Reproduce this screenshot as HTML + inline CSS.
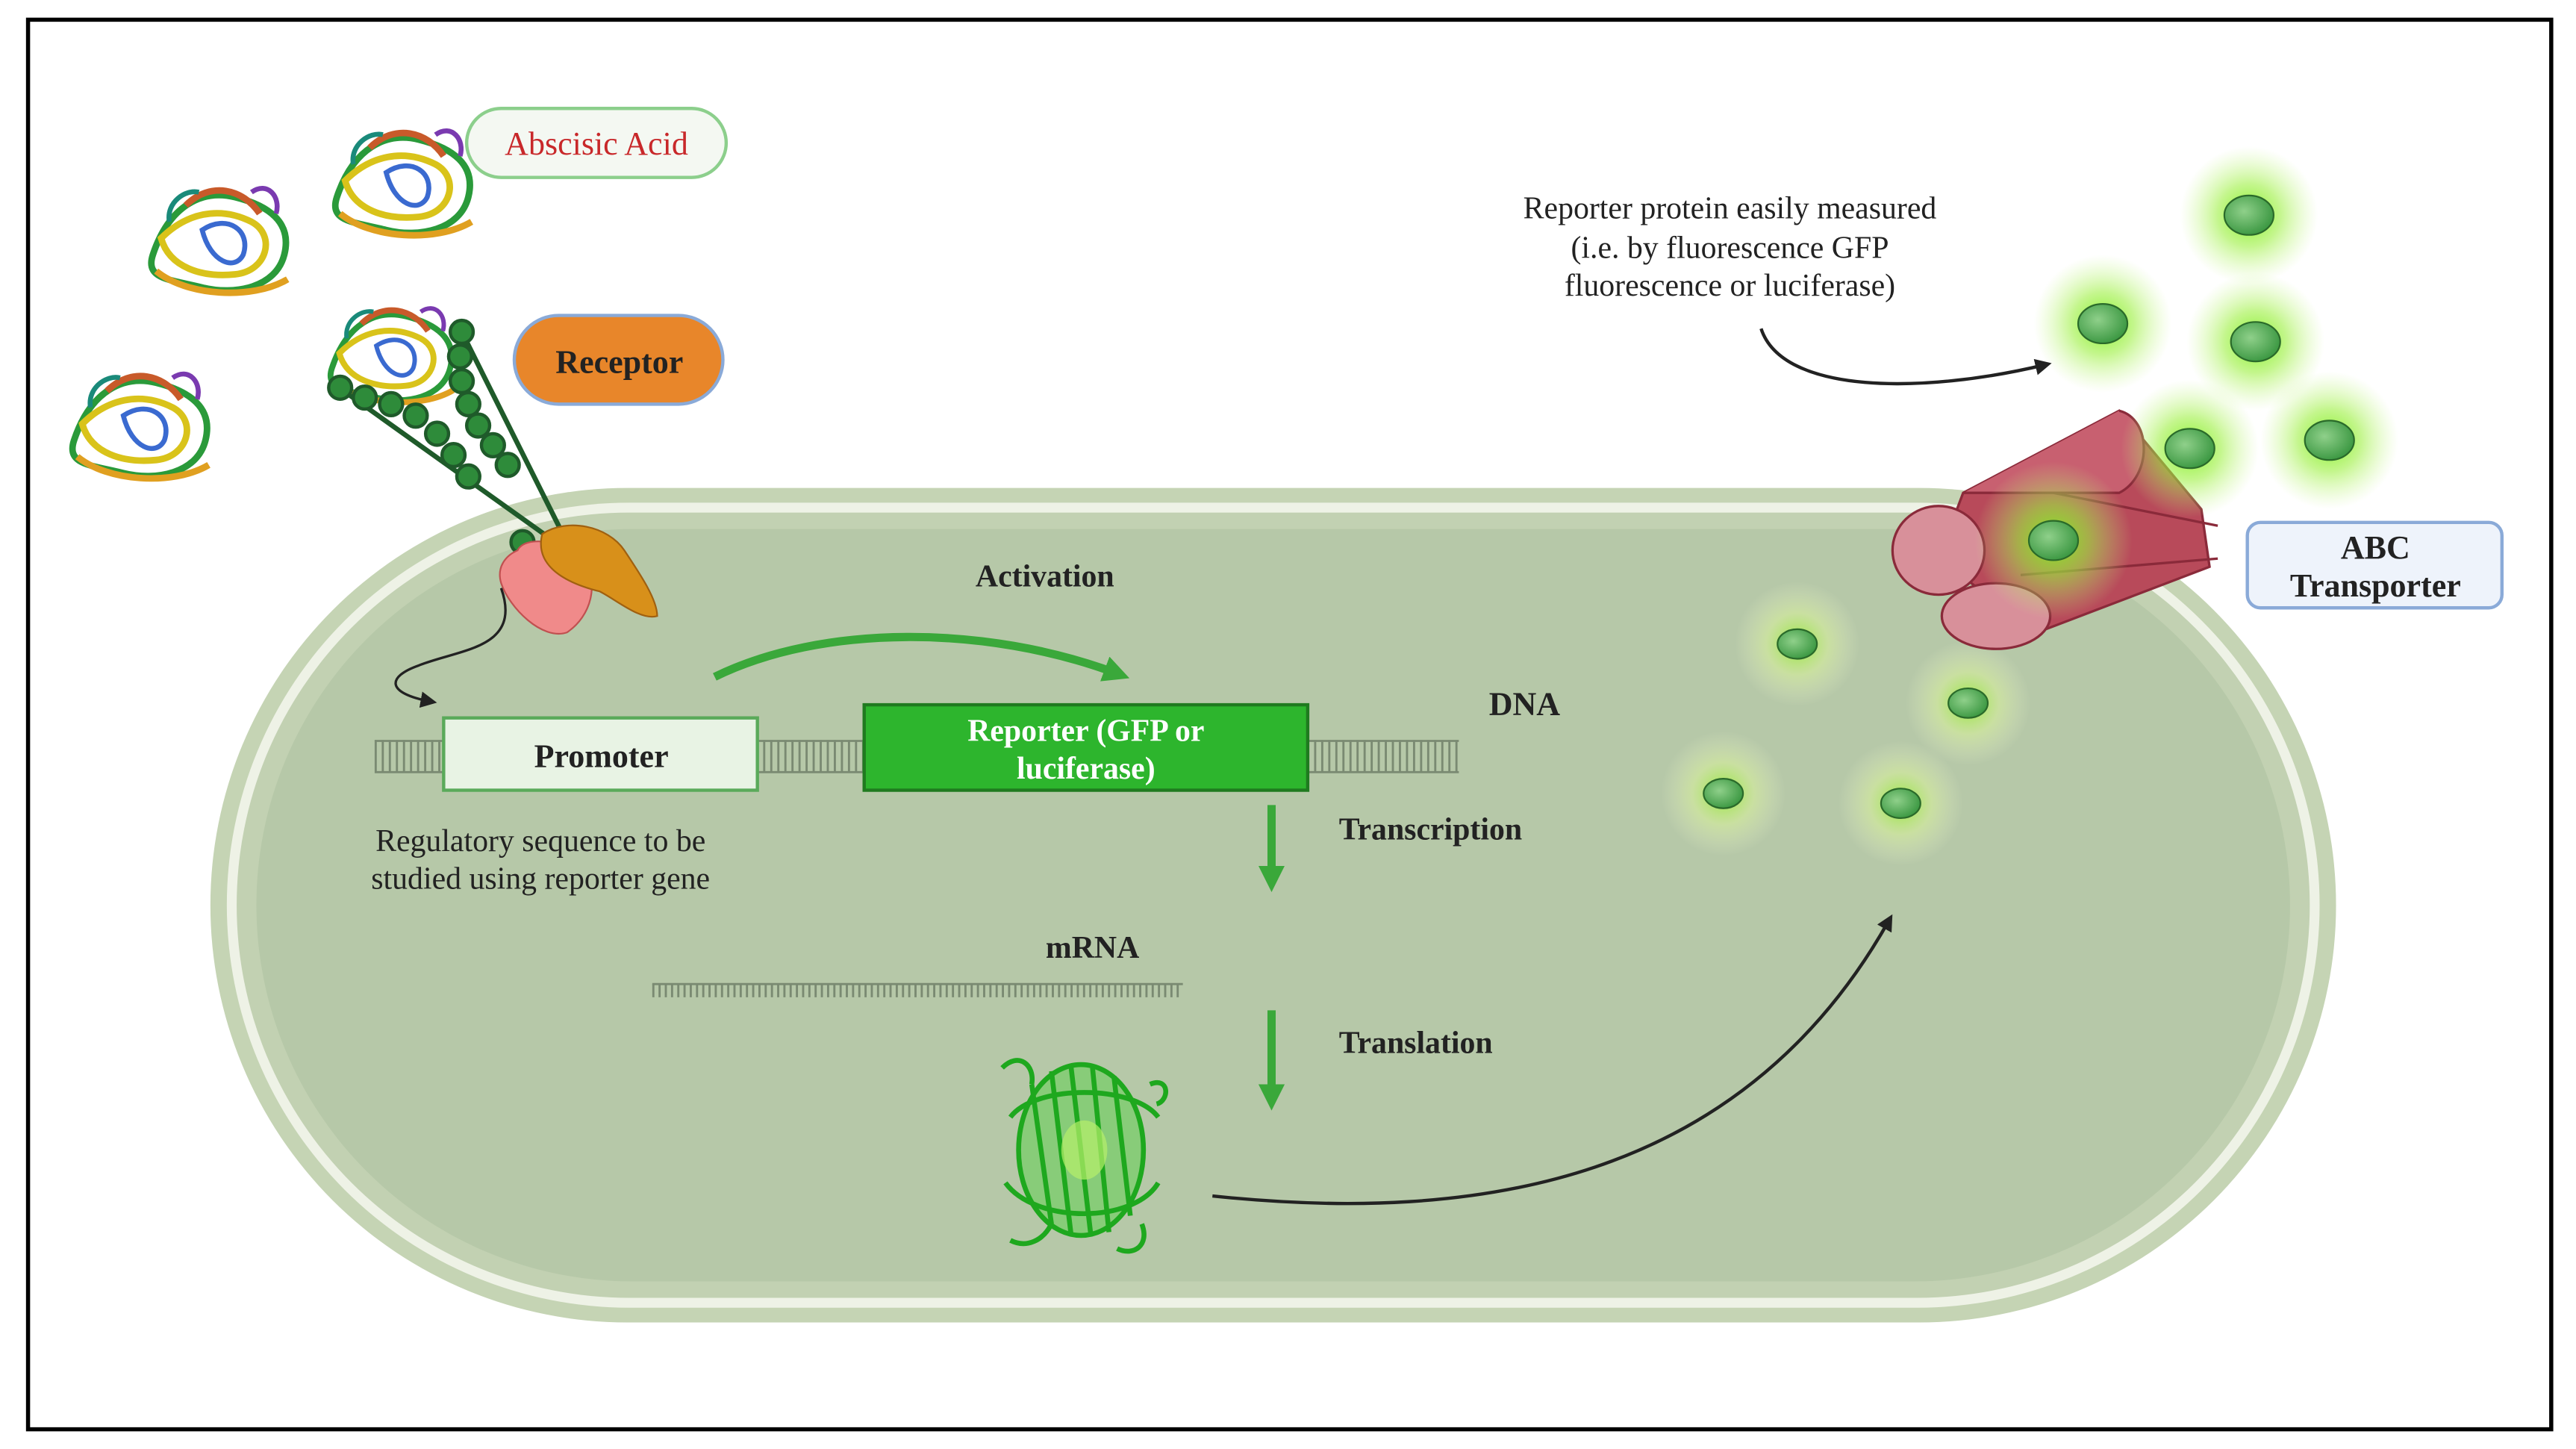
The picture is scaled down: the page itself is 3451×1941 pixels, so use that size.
<!DOCTYPE html>
<html><head><meta charset="utf-8">
<style>
html,body{margin:0;padding:0;background:#fff;}
svg{display:block;}
text{font-family:"Liberation Serif",serif;}
</style></head>
<body>
<svg width="3451" height="1941" viewBox="0 0 1568 882" xmlns="http://www.w3.org/2000/svg">
<defs>
<radialGradient id="glow" cx="50%" cy="50%" r="50%">
<stop offset="0%" stop-color="#7cf01a" stop-opacity="0.95"/>
<stop offset="45%" stop-color="#9cf040" stop-opacity="0.6"/>
<stop offset="100%" stop-color="#c8f58a" stop-opacity="0"/>
</radialGradient>
<radialGradient id="glowIn" cx="50%" cy="50%" r="50%">
<stop offset="0%" stop-color="#8eea2a" stop-opacity="0.9"/>
<stop offset="50%" stop-color="#d6ef9c" stop-opacity="0.6"/>
<stop offset="100%" stop-color="#e6f0c8" stop-opacity="0"/>
</radialGradient>
<radialGradient id="dot" cx="40%" cy="40%" r="60%">
<stop offset="0%" stop-color="#8fd08a"/>
<stop offset="100%" stop-color="#3f9a45"/>
</radialGradient>
<marker id="ah" markerWidth="10" markerHeight="10" refX="6" refY="5" orient="auto" markerUnits="userSpaceOnUse">
<path d="M0,0 L10,5 L0,10 z" fill="#222"/>
</marker>
<marker id="ahg" markerWidth="16" markerHeight="16" refX="8" refY="8" orient="auto" markerUnits="userSpaceOnUse">
<path d="M0,0 L16,8 L0,16 z" fill="#3aa83a"/>
</marker>
<g id="prot">
<path d="M-40,10 C-30,-20 -10,-30 10,-25 C30,-20 45,-10 40,10 C35,30 10,35 -10,30 C-30,25 -45,25 -40,10z" fill="none" stroke="#2a9a3a" stroke-width="4"/>
<path d="M-35,0 C-20,-15 0,-20 20,-10 C35,-2 30,20 10,22 C-10,24 -30,18 -35,0z" fill="none" stroke="#d9c31a" stroke-width="4"/>
<path d="M-20,-20 C-5,-35 15,-30 25,-15" fill="none" stroke="#c85a2a" stroke-width="4"/>
<path d="M-10,-5 C5,-15 20,-5 15,10 C10,20 -5,15 -10,-5z" fill="none" stroke="#3a6ad0" stroke-width="3"/>
<path d="M-38,20 C-20,35 20,38 42,25" fill="none" stroke="#e0a020" stroke-width="4"/>
<path d="M20,-28 C30,-35 38,-25 35,-15" fill="none" stroke="#7a3ab0" stroke-width="3"/>
<path d="M-30,-10 C-32,-22 -20,-30 -12,-28" fill="none" stroke="#1a8a7a" stroke-width="3"/>
</g>
</defs>

<rect x="0" y="0" width="1568" height="882" fill="#fff"/>
<rect x="17" y="12" width="1536" height="858" fill="#fff" stroke="#000" stroke-width="2.5"/>

<!-- cell -->
<rect x="128" y="297" width="1294" height="508" rx="254" fill="#c5d4b4"/>
<rect x="138" y="306" width="1274" height="490" rx="245" fill="#eef2e6"/>
<rect x="144" y="312" width="1262" height="478" rx="239" fill="#c2d1b2"/>
<rect x="156" y="322" width="1238" height="458" rx="229" fill="#b6c8a8"/>

<!-- proteins -->
<use href="#prot" transform="translate(133,145)"/>
<use href="#prot" transform="translate(245,110)"/>
<use href="#prot" transform="translate(85,258)"/>
<use href="#prot" transform="translate(238,215) scale(0.9)"/>

<!-- receptor chains -->
<g stroke="#1f5a2a" stroke-width="2" fill="#2e8b3a">
<line x1="205" y1="235" x2="345" y2="335" stroke="#1f5a2a" stroke-width="3"/>
<line x1="280" y1="200" x2="345" y2="330" stroke="#1f5a2a" stroke-width="3"/>
<circle cx="207" cy="236" r="7"/><circle cx="222" cy="242" r="7"/><circle cx="238" cy="246" r="7"/>
<circle cx="253" cy="253" r="7"/><circle cx="266" cy="264" r="7"/><circle cx="276" cy="277" r="7"/>
<circle cx="285" cy="290" r="7"/><circle cx="281" cy="202" r="7"/><circle cx="280" cy="217" r="7"/>
<circle cx="281" cy="232" r="7"/><circle cx="285" cy="246" r="7"/><circle cx="291" cy="259" r="7"/>
<circle cx="300" cy="271" r="7"/><circle cx="309" cy="283" r="7"/>
<circle cx="318" cy="330" r="7"/>
</g>
<path d="M315,335 C320,325 345,330 355,340 C365,355 360,375 345,385 C330,390 310,370 305,355 C302,345 308,338 315,335z" fill="#f08a8a" stroke="#c05050" stroke-width="1"/>
<path d="M330,325 C345,315 370,320 380,335 C390,350 400,365 400,375 C390,378 375,365 365,360 C345,355 325,345 330,325z" fill="#d8901a" stroke="#a06010" stroke-width="1"/>

<!-- labels -->
<rect x="284" y="66" width="158" height="42" rx="21" fill="#f4f8f2" stroke="#8ccf8c" stroke-width="2"/>
<text x="363" y="94" text-anchor="middle" font-size="20" fill="#c8282a">Abscisic Acid</text>
<rect x="313" y="192" width="127" height="54" rx="27" fill="#e8862a" stroke="#8aaad8" stroke-width="2"/>
<text x="377" y="227" text-anchor="middle" font-size="20" font-weight="bold" fill="#222">Receptor</text>

<path d="M305,358 C318,395 280,395 255,405 C235,412 235,422 262,427" fill="none" stroke="#222" stroke-width="1.5" marker-end="url(#ah)"/>

<!-- DNA ladder -->
<g stroke="#7a8a72" stroke-width="1.3">
<line x1="228" y1="451" x2="888" y2="451"/><line x1="228" y1="470" x2="888" y2="470"/>
</g>
<g id="rungs" stroke="#7a8a72" stroke-width="1.3">
</g>
<path d="M228,460 H888" stroke="#7a8a72" stroke-width="19" stroke-dasharray="1.3 3" fill="none"/>

<rect x="270" y="437" width="191" height="44" fill="#e8f3e4" stroke="#5aaa5a" stroke-width="2"/>
<text x="366" y="467" text-anchor="middle" font-size="20" font-weight="bold" fill="#222">Promoter</text>
<rect x="526" y="429" width="270" height="52" fill="#2db52d" stroke="#1f7a1f" stroke-width="2"/>
<text x="661" y="451" text-anchor="middle" font-size="19" font-weight="bold" fill="#fff">Reporter (GFP or</text>
<text x="661" y="474" text-anchor="middle" font-size="19" font-weight="bold" fill="#fff">luciferase)</text>

<text x="636" y="357" text-anchor="middle" font-size="19" font-weight="bold" fill="#222">Activation</text>
<path d="M435,412 C500,380 600,380 680,410" fill="none" stroke="#3aa83a" stroke-width="5" marker-end="url(#ahg)"/>
<text x="928" y="435" text-anchor="middle" font-size="20" font-weight="bold" fill="#222">DNA</text>

<text x="329" y="518" text-anchor="middle" font-size="19" fill="#222">Regulatory sequence to be</text>
<text x="329" y="541" text-anchor="middle" font-size="19" fill="#222">studied using reporter gene</text>

<line x1="774" y1="490" x2="774" y2="535" stroke="#3aa83a" stroke-width="5" marker-end="url(#ahg)"/>
<text x="815" y="511" font-size="19" font-weight="bold" fill="#222">Transcription</text>
<text x="665" y="583" text-anchor="middle" font-size="19" font-weight="bold" fill="#222">mRNA</text>
<line x1="397" y1="599" x2="720" y2="599" stroke="#7a8a72" stroke-width="1.3"/>
<path d="M397,603 H720" stroke="#7a8a72" stroke-width="8" stroke-dasharray="1.3 2.5" fill="none"/>
<line x1="774" y1="615" x2="774" y2="668" stroke="#3aa83a" stroke-width="5" marker-end="url(#ahg)"/>
<text x="815" y="641" font-size="19" font-weight="bold" fill="#222">Translation</text>

<!-- GFP barrel -->
<g fill="none" stroke="#1ea81e" stroke-width="3">
<ellipse cx="658" cy="700" rx="38" ry="52" fill="#5ad04a" fill-opacity="0.5"/>
<path d="M628,660 L640,745 M640,652 L652,752 M652,650 L664,752 M665,650 L675,750 M678,655 L688,740"/>
<path d="M615,680 C630,660 690,660 705,680 M612,720 C630,745 690,745 705,720"/>
<path d="M610,650 C620,640 630,648 628,660 M700,660 C712,655 712,670 704,672 M615,755 C625,760 635,755 640,745 M680,760 C690,765 700,758 695,745"/>
</g>
<ellipse cx="660" cy="700" rx="14" ry="18" fill="#b6f06a" opacity="0.7"/>

<path d="M738,728 C900,745 1060,720 1150,560" fill="none" stroke="#222" stroke-width="2" marker-end="url(#ah)"/>

<!-- internal glowing dots -->
<g>
<circle cx="1094" cy="392" r="38" fill="url(#glowIn)"/><ellipse cx="1094" cy="392" rx="12" ry="9" fill="url(#dot)" stroke="#2a6a2a"/>
<circle cx="1198" cy="428" r="38" fill="url(#glowIn)"/><ellipse cx="1198" cy="428" rx="12" ry="9" fill="url(#dot)" stroke="#2a6a2a"/>
<circle cx="1049" cy="483" r="38" fill="url(#glowIn)"/><ellipse cx="1049" cy="483" rx="12" ry="9" fill="url(#dot)" stroke="#2a6a2a"/>
<circle cx="1157" cy="489" r="38" fill="url(#glowIn)"/><ellipse cx="1157" cy="489" rx="12" ry="9" fill="url(#dot)" stroke="#2a6a2a"/>
</g>

<!-- ABC transporter -->
<g stroke="#8a2a3a" stroke-width="1.5">
<path d="M1195,300 L1290,250 L1340,310 L1345,345 L1240,385 L1180,340z" fill="#b84a5a"/>
<path d="M1290,250 C1310,255 1310,290 1290,300 L1195,300" fill="#c86070"/>
<ellipse cx="1180" cy="335" rx="28" ry="27" fill="#d8909a"/>
<ellipse cx="1215" cy="375" rx="33" ry="20" fill="#d8909a"/>
<path d="M1250,300 L1350,320 M1230,350 L1350,340" fill="none"/>
</g>

<!-- external glowing dots -->
<g>
<circle cx="1369" cy="131" r="42" fill="url(#glow)"/><ellipse cx="1369" cy="131" rx="15" ry="12" fill="url(#dot)" stroke="#2a6a2a"/>
<circle cx="1280" cy="197" r="42" fill="url(#glow)"/><ellipse cx="1280" cy="197" rx="15" ry="12" fill="url(#dot)" stroke="#2a6a2a"/>
<circle cx="1373" cy="208" r="42" fill="url(#glow)"/><ellipse cx="1373" cy="208" rx="15" ry="12" fill="url(#dot)" stroke="#2a6a2a"/>
<circle cx="1333" cy="273" r="42" fill="url(#glow)"/><ellipse cx="1333" cy="273" rx="15" ry="12" fill="url(#dot)" stroke="#2a6a2a"/>
<circle cx="1418" cy="268" r="42" fill="url(#glow)"/><ellipse cx="1418" cy="268" rx="15" ry="12" fill="url(#dot)" stroke="#2a6a2a"/>
<circle cx="1250" cy="329" r="48" fill="url(#glow)"/><ellipse cx="1250" cy="329" rx="15" ry="12" fill="url(#dot)" stroke="#2a6a2a"/>
</g>

<rect x="1368" y="318" width="155" height="52" rx="8" fill="#eef3fb" stroke="#8aaad8" stroke-width="2"/>
<text x="1446" y="340" text-anchor="middle" font-size="20" font-weight="bold" fill="#222">ABC</text>
<text x="1446" y="363" text-anchor="middle" font-size="20" font-weight="bold" fill="#222">Transporter</text>

<text x="1053" y="133" text-anchor="middle" font-size="19" fill="#222">Reporter protein easily measured</text>
<text x="1053" y="157" text-anchor="middle" font-size="19" fill="#222">(i.e. by fluorescence GFP</text>
<text x="1053" y="180" text-anchor="middle" font-size="19" fill="#222">fluorescence or luciferase)</text>
<path d="M1072,200 C1085,240 1170,240 1245,222" fill="none" stroke="#222" stroke-width="2" marker-end="url(#ah)"/>
</svg>
</body></html>
